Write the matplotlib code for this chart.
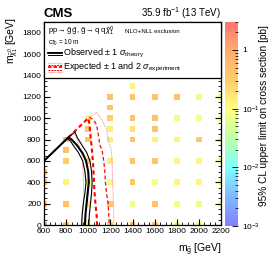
import numpy as np
import matplotlib
matplotlib.use("Agg")
import matplotlib.pyplot as plt
from matplotlib.colors import LinearSegmentedColormap, LogNorm
from matplotlib.patches import Rectangle
from matplotlib.ticker import MultipleLocator, LogLocator, FixedFormatter, FixedLocator

plt.rcParams['font.family'] = ['Liberation Sans', 'DejaVu Sans']
plt.rcParams['mathtext.fontset'] = 'custom'
plt.rcParams['mathtext.rm'] = 'Liberation Sans'
plt.rcParams['mathtext.it'] = 'Liberation Sans:italic'
plt.rcParams['mathtext.bf'] = 'Liberation Sans:bold'

# upper limits per (m_gluino, m_chi) point [pb]
m_gluino = [600, 600, 600, 600,
            800, 800, 800, 800, 800, 800,
            1000, 1000, 1000, 1000, 1000, 1000, 1000,
            1200, 1200, 1200, 1200, 1200, 1200, 1200, 1200, 1200,
            1400, 1400, 1400, 1400, 1400, 1400, 1400, 1400, 1400,
            1600, 1600, 1600, 1600, 1600, 1600, 1600, 1600,
            1800, 1800, 1800, 1800, 1800, 1800, 1800,
            2000, 2000, 2000, 2000, 2000, 2000, 2000,
            2200, 2200, 2200, 2200, 2200, 2200]
m_chi = [500, 400, 200, 0,
         800, 700, 600, 400, 200, 0,
         1000, 900, 800, 600, 400, 200, 0,
         1200, 1100, 1000, 900, 800, 600, 400, 200, 0,
         1300, 1200, 1000, 900, 800, 600, 400, 200, 0,
         1200, 1000, 900, 800, 600, 400, 200, 0,
         1200, 1000, 800, 600, 400, 200, 0,
         1200, 1000, 800, 600, 400, 200, 0,
         1200, 1000, 800, 600, 400, 200]
limit = [0.3, 0.45, 0.45, 0.004,
         0.6, 0.5, 0.3, 0.13, 0.45, 0.4,
         0.13, 0.4, 0.4, 0.3, 0.13, 0.12, 0.1,
         0.45, 0.45, 0.3, 0.15, 0.15, 0.15, 0.12, 0.45, 0.4,
         0.13, 0.45, 0.45, 0.2, 0.45, 0.45, 0.4, 0.07, 0.4,
         0.45, 0.45, 0.45, 0.13, 0.45, 0.08, 0.45, 0.4,
         0.45, 0.07, 0.13, 0.12, 0.12, 0.08, 0.12,
         0.07, 0.08, 0.4, 0.12, 0.12, 0.07, 0.12,
         0.12, 0.12, 0.12, 0.08, 0.12, 0.07]

# contours
obs_x = [600, 820, 850, 900, 950, 980, 1000, 1005, 995, 985, 975, 970]
obs_y = [600, 820, 800, 744, 670, 600, 500, 400, 300, 200, 100, 0]
obs_m_x = [810, 840, 865, 910, 950, 970, 980, 970, 955, 945, 940]
obs_m_y = [810, 785, 744, 680, 600, 500, 400, 300, 200, 100, 0]
obs_p_x = [830, 880, 900, 945, 985, 1015, 1030, 1035, 1030, 1020, 1010, 1005]
obs_p_y = [830, 870, 820, 744, 680, 600, 500, 400, 300, 200, 100, 0]

exp_x = [820, 1000, 1010, 1016, 1031, 1046, 1055, 1065, 1075, 1080]
exp_y = [820, 1000, 950, 884, 728, 542, 326, 200, 100, 0]
exp_p1_x = [1010, 1050, 1075, 1090, 1105, 1125, 1140, 1150, 1155, 1165, 1180, 1185, 1190]
exp_p1_y = [1010, 980, 940, 850, 750, 700, 600, 500, 400, 300, 200, 100, 0]
exp_p2_x = [1000, 1076, 1120, 1165, 1182, 1210, 1215, 1220, 1228, 1232]
exp_p2_y = [1000, 1054, 990, 900, 790, 700, 600, 400, 200, 0]
exp_m2_x = [840, 870, 896, 941, 956, 956, 958, 950, 945]
exp_m2_y = [840, 870, 806, 667, 449, 326, 200, 100, 0]

cmap = LinearSegmentedColormap.from_list('pal', [
    (0.0, (0.50, 0.50, 1.00)),
    (0.14, (0.50, 0.72, 1.00)),
    (0.29, (0.50, 1.00, 1.00)),
    (0.43, (0.75, 1.00, 0.65)),
    (0.575, (1.00, 1.00, 0.50)),
    (0.72, (1.00, 0.80, 0.42)),
    (0.86, (1.00, 0.68, 0.42)),
    (1.0, (1.00, 0.45, 0.45)),
])
norm = LogNorm(1e-3, 3)

fig = plt.figure(figsize=(2.74, 2.63), dpi=100)
ax = fig.add_axes([44 / 274, 1 - 225 / 263, 177 / 274, 203 / 263])
cax = fig.add_axes([225 / 274, 1 - 226 / 263, 13 / 274, 204 / 263])

ax.scatter(m_gluino, m_chi, c=limit, cmap=cmap, norm=norm, marker='s', s=18,
           linewidths=0, zorder=1)

ax.plot(obs_x, obs_y, color='black', lw=1.5, zorder=3)
ax.plot(obs_m_x, obs_m_y, color='black', lw=0.8, zorder=3)
ax.plot(obs_p_x, obs_p_y, color='black', lw=0.8, zorder=3)
ax.plot(exp_x, exp_y, color='red', lw=1.5, ls=(0, (2, 1.5)), zorder=2)
ax.plot(exp_p1_x, exp_p1_y, color='red', lw=0.9, ls=(0, (3, 2)), zorder=2)
ax.plot(exp_p2_x, exp_p2_y, color='#ff7070', lw=0.6, ls=(0, (1, 1)), zorder=2)
ax.plot(exp_m2_x, exp_m2_y, color='#ff7070', lw=0.6, ls=(0, (1, 1)), zorder=2)

ax.set_xlim(600, 2200)
ax.set_ylim(0, 1900)
ax.xaxis.set_major_locator(MultipleLocator(200))
ax.xaxis.set_minor_locator(MultipleLocator(50))
ax.yaxis.set_major_locator(MultipleLocator(200))
ax.yaxis.set_minor_locator(MultipleLocator(50))
ax.tick_params(which='both', direction='in', top=True, right=True, labelsize=6)
ax.tick_params(axis='x', pad=2.5)
ax.tick_params(axis='y', pad=2)
ax.tick_params(which='major', length=4, width=0.8)
ax.tick_params(which='minor', length=2, width=0.6)
ax.set_yticks(range(0, 1801, 200))
for s in ax.spines.values():
    s.set_linewidth(0.9)

# legend box
box = Rectangle((0, 0.724), 1, 0.276, transform=ax.transAxes, facecolor='white',
                edgecolor='black', lw=0.9, zorder=5, clip_on=False)
ax.add_patch(box)
ax.text(0.023, 0.955, r'pp$\rightarrow\tilde{\mathrm{g}}\,\tilde{\mathrm{g}}$, $\tilde{\mathrm{g}}\rightarrow$q$\,$q$\,\tilde{\chi}^{0}_{1}$',
        transform=ax.transAxes, fontsize=5.5, va='center', zorder=6)
ax.text(0.46, 0.955, 'NLO+NLL exclusion', transform=ax.transAxes, fontsize=4.4,
        va='center', zorder=6)
ax.text(0.023, 0.895, r'c$\tau_0$ = 10 m', transform=ax.transAxes, fontsize=4.7,
        va='center', zorder=6)

dy = 1.6 / 203
lx = [0.023, 0.10]
y3 = 0.845
ax.plot(lx, [y3, y3], color='black', lw=1.3, transform=ax.transAxes, zorder=6, clip_on=False)
ax.plot(lx, [y3 + dy, y3 + dy], color='black', lw=0.7, transform=ax.transAxes, zorder=6, clip_on=False)
ax.plot(lx, [y3 - dy, y3 - dy], color='black', lw=0.7, transform=ax.transAxes, zorder=6, clip_on=False)
ax.text(0.11, y3, r'Observed $\pm$ 1 $\sigma_{\mathrm{theory}}$', transform=ax.transAxes,
        fontsize=6.5, va='center', zorder=6)
y4 = 0.776
ax.plot(lx, [y4, y4], color='red', lw=1.3, ls=(0, (2, 1)), transform=ax.transAxes, zorder=6, clip_on=False)
ax.plot(lx, [y4 + 1.5 * dy, y4 + 1.5 * dy], color='red', lw=0.7, ls=(0, (2, 1)), transform=ax.transAxes, zorder=6, clip_on=False)
ax.plot(lx, [y4 - 1.5 * dy, y4 - 1.5 * dy], color='red', lw=0.7, ls=(0, (2, 1)), transform=ax.transAxes, zorder=6, clip_on=False)
ax.plot(lx, [y4 + 2.8 * dy, y4 + 2.8 * dy], color='#ff7070', lw=0.6, ls=(0, (1, 1)), transform=ax.transAxes, zorder=6, clip_on=False)
ax.plot(lx, [y4 - 2.8 * dy, y4 - 2.8 * dy], color='#ff7070', lw=0.6, ls=(0, (1, 1)), transform=ax.transAxes, zorder=6, clip_on=False)
ax.text(0.11, y4, r'Expected $\pm$ 1 and 2 $\sigma_{\mathrm{experiment}}$', transform=ax.transAxes,
        fontsize=6.5, va='center', zorder=6)

# colorbar
sm = plt.cm.ScalarMappable(norm=norm, cmap=cmap)
cb = fig.colorbar(sm, cax=cax)
cb.outline.set_visible(False)
cax.yaxis.set_major_locator(FixedLocator([1e-3, 1e-2, 1e-1, 1]))
cax.yaxis.set_major_formatter(FixedFormatter([r'$10^{-3}$', r'$10^{-2}$', r'$10^{-1}$', '1']))
cax.yaxis.set_minor_locator(LogLocator(base=10, subs=np.arange(2, 10)))
cax.tick_params(which='both', direction='in', labelsize=6, pad=3)
cax.tick_params(which='major', length=4, width=0.6)
cax.tick_params(which='minor', length=2, width=0.5)

fig.text(44 / 274, 1 - 17 / 263, 'CMS', fontsize=9.5, fontweight='bold', ha='left', va='baseline')
fig.text(221 / 274, 1 - 17 / 263, r'35.9 fb$^{-1}$ (13 TeV)', fontsize=7, ha='right', va='baseline')
fig.text(12 / 274, 1 - 17 / 263, r'm$_{\tilde{\chi}^{0}_{1}}$ [GeV]', fontsize=7.5, rotation=90,
         ha='center', va='top')
fig.text(222 / 274, 1 - 250 / 263, r'm$_{\tilde{\mathrm{g}}}$ [GeV]', fontsize=7.5, ha='right', va='center')
fig.text(264 / 274, 1 - 25 / 263, '95% CL upper limit on cross section [pb]', fontsize=7.3,
         rotation=90, ha='center', va='top')

fig.savefig('out.png', dpi=100)
